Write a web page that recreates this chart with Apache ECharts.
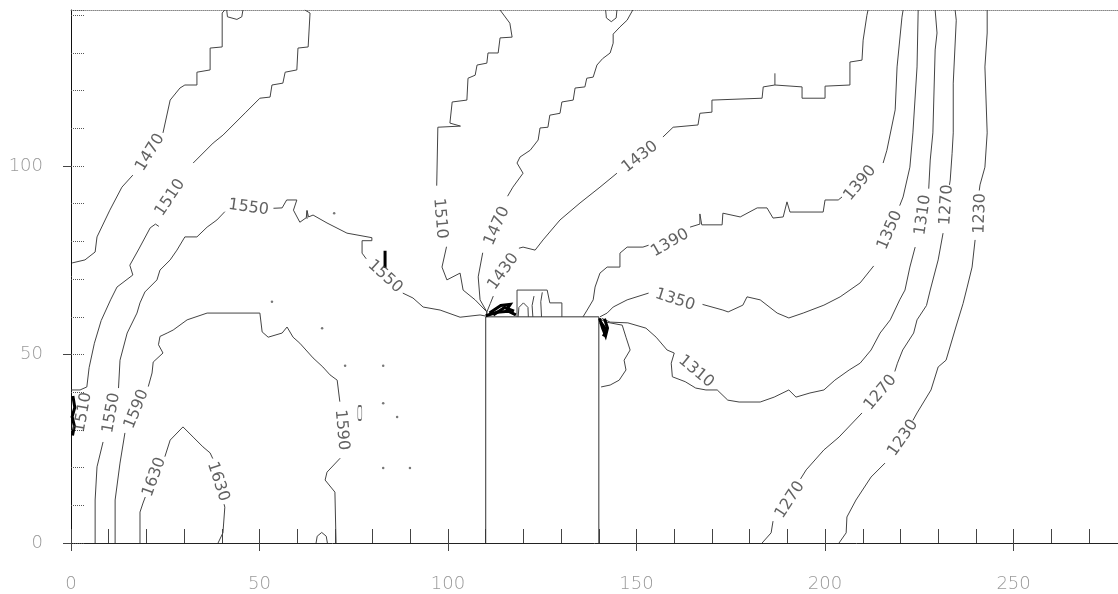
<!DOCTYPE html>
<html><head><meta charset="utf-8">
<script src="https://cdn.jsdelivr.net/npm/echarts@6/dist/echarts.min.js"></script>
<style>html,body{margin:0;padding:0;background:#fff}#c{width:1118px;height:594px}</style>
</head><body><div id="c"></div>
<script>
// axis extents (data units)
const xMax = 277.7;
const yMax = 141.4;
const xMajor = 50, xMinor = 10, yMajor = 50, yMinor = 10;

// building outline
const building = [[110,0],[110,60],[140,60],[140,0]];

// contour segments [x, y] in data units, one array per level
const c1630 = [
  [[18.3,0],[18.3,8.2],[19.1,10.6],[19.7,12.2]],
  [[24.9,22.9],[26.3,27.3],[29.7,30.8],[32.4,28.1],[35,25.5],[36.9,23.9],[37.6,22.4]],
  [[40.6,10.3],[40.8,9.5],[40.3,2.7],[39,0]]
];
const c1590 = [
  [[11.7,0],[11.7,11.4],[13,21.2],[14.3,29.2]],
  [[20.5,41.5],[21.5,45.1],[21.8,48],[24.4,50.4],[23.2,52.6],[23.6,54.8],[25.5,55.7],[27.1,56.5],[30.8,59.2],[36.1,61],[50.1,61],[50.7,56],[52.3,54.6],[56,55.7],[57.3,57.3],[58.9,54.6],[60.7,53],[64.2,49.1],[66.8,46.7],[68.7,44.6],[70.6,43.2],[71.3,37.5]],
  [[71.4,22.5],[67.9,18.8],[67.4,16.7],[70,13.5],[70.3,0]]
];
const c1550 = [
  [[6.4,0],[6.4,11.4],[6.9,20.2],[8.5,26.8]],
  [[12.6,41.1],[13,48.5],[14.9,55.7],[17.5,61],[18.3,63.7],[19.6,66.6],[22.8,69.8],[23.6,72.4],[26.3,75.1],[28.1,77.7],[30.2,81.2],[33.4,81.2],[36.1,83.8],[38.7,85.7],[40.8,87.9]],
  [[53.7,88.8],[56,88.9],[57.2,91],[59.9,91],[59,88.3],[60.7,85.1],[62.4,86.3],[62.6,88.2],[63,86.5],[64.2,87],[67.9,84.9],[73.2,82.2],[79.8,81],[79.8,80.2],[77.2,80.2],[77.2,76.9],[78.3,75.4]],
  [[88,66.3],[90.7,65],[93.4,62.6],[97.9,61.8],[103.2,59.9],[108.5,60.5],[110,60.2]]
];
const c1510 = [
  [[0,40.6],[2.4,40.6],[4.2,41.4],[4.8,46.5],[6.2,53],[8,59],[10.5,64.5],[12.2,67.9],[16.4,71.1],[15.6,73.7],[18,78],[21,83.6],[22.4,84.6],[23.3,84]],
  [[32.4,100.8],[37.7,106.1],[40.3,108.2],[46.4,114.3],[50.1,118],[52.8,118.3],[53.3,121.5],[56.2,122],[56.8,124.9],[59.9,125.5],[60.2,131.3],[62.9,131.6],[63.4,140.6],[62,141.4]],
  [[113.8,141.4],[116.4,137.9],[117,134.2],[113.8,134],[113.3,130],[110.6,130],[110.3,127.3],[107.7,126.8],[107.2,124.1],[105.3,123.3],[105,117.5],[101.1,117],[100.5,111.4],[103.3,110.6],[97.3,110.3],[97,94.8]],
  [[99.6,78.6],[98.4,73.2],[99.7,69.8],[103.2,71.6],[104,67.1],[107.2,64.5],[110.3,61.3],[110.2,60.2]]
];
const c1470 = [
  [[0.3,74.3],[3.7,75.1],[6.4,77.2],[6.9,81.2],[10.3,88.3],[13.5,94.4],[16.4,97.6]],
  [[24.4,108.8],[26.3,117.5],[28.9,120.7],[30.2,121.5],[33.4,121.5],[33.4,124.9],[36.9,125.5],[36.9,131.3],[40.1,131.6],[40.1,140.6],[40.8,141.4]],
  [[41.3,141.4],[41.5,139.6],[44,138.9],[45.3,139.6],[45.6,141.4]],
  [[149,141.4],[147.5,138.7],[145.6,136.9],[143.8,135],[143.8,132.6],[143,130],[141,128.5],[139.5,126.8],[138.5,123.6],[136.8,123.3],[136.3,121],[133.7,120.7],[133.2,117.5],[130.2,117],[129.7,114],[127,113.5],[126.5,110.3],[124.4,110.1],[123.9,106.9],[121.8,104.2],[119.1,102.4],[118.3,100.8],[119.9,98.1],[117.2,94.4],[115.8,92]],
  [[109.2,77],[108,70.6],[108.5,64.5],[110.3,61.3],[110.2,60.2]],
  [[141.8,141.4],[142,139.3],[143.3,138.3],[144.6,139.3],[144.8,141.4]]
];
const c1430 = [
  [[110.3,61.3],[111.2,63.5],[112,65.5]],
  [[118.8,78.2],[119.9,78.5],[123.1,77.7],[125.2,80.4],[129.7,85.7],[135,90.2],[140.3,94.4],[144.8,98.1]],
  [[157,107.7],[159.7,110.3],[166.3,110.9],[166.8,114],[170,114.3],[170,117.5],[183.3,118],[183.6,121],[186.7,121.5],[193.9,121],[193.9,118],[200,118],[200,121.2],[206.6,121.5],[206.6,127.6],[209.8,128.1],[210.1,133.4],[211.1,140],[211.4,141.4]],
  [[186.7,121.5],[186.7,124.6]]
];
const c1390 = [
  [[135.8,60],[136.9,61.8],[138.5,64.5],[139,67.9],[140.3,71.6],[142.2,73.2],[145.6,73.2],[145.6,76.9],[147.5,78.5],[151.7,78.5],[153.2,79]],
  [[164.2,83.8],[166.8,84.6],[166.8,87.3],[167.3,84.4],[172.7,84.4],[172.9,87.5],[177.5,86.5],[182,88.9],[184.6,88.9],[186.2,86.2],[188.9,86.5],[189.9,90.5],[190.7,87.8],[199.5,87.8],[200,91],[203.5,91],[204.5,91.8]],
  [[215.4,100.8],[216.4,104.2],[218.6,114.9],[219.1,126.3],[220.4,139.5],[220.7,141.4]]
];
const c1350 = [
  [[224.7,141.4],[224.4,126.3],[223.3,108.8],[222.5,99.7],[220.7,91.8],[219.8,89.5]],
  [[212.9,73.5],[209.3,69],[204,65.3],[199.7,63.1],[194.2,61],[190.4,59.7],[187.3,61],[182.8,64.5],[179.3,65.3],[178.2,63.1],[174.3,61.3],[172.9,61.8],[167.5,63.3]],
  [[153.2,66.3],[147.5,64.5],[143.8,62.6],[142.2,61],[140.3,60]],
  [[140,59.6],[141.9,58.6],[146.2,57.8],[147.2,54.6],[148.3,51.2],[146.7,48.5],[147.2,45.9],[145.4,43.2],[143,41.9],[140.6,41.4]]
];
const c1310 = [
  [[229.2,141.4],[229.7,135.3],[229.2,130.8],[228.6,108.8],[227.9,101.6],[227.5,94]],
  [[223.9,78.5],[222.5,73.2],[221.2,67.1],[219.8,64.5],[217.3,59.2],[214.6,55.7],[212.2,51.2],[209.3,47.7],[206.4,45.9],[202.6,43.2],[199.7,40.6],[196,39.8],[192.3,38.7],[190.4,40.6],[186.5,38.7],[182.8,37.4],[177.2,37.4],[174.2,37.9],[171.4,40.6],[168.4,40.6],[165.7,41.1],[162.9,42.8],[159.5,44.1],[159.2,47.7],[160,50.4],[158.1,51.2],[155.2,54.6],[152.5,57],[147.7,58.4],[143,58.6],[140.8,59.6]]
];
const c1270 = [
  [[234.5,141.4],[234.8,138.7],[234,122],[234,108.8],[233.7,103.4],[233.2,96.3],[233,95]],
  [[231.3,82.2],[230,75.1],[227.9,67.1],[226.9,63],[224.4,59.2],[223.5,55.7],[220.6,51.2],[219.2,47.7],[218.5,45.5]],
  [[209.8,34.5],[203.7,28.1],[199.7,24.7],[195,19.4],[193.5,17]],
  [[186.2,5.8],[185.7,2.7],[183.3,0]]
];
const c1230 = [
  [[243,141.4],[243,135.3],[242.4,126.3],[243,108.8],[242.4,99.7],[241.1,95],[240.9,93.5]],
  [[239.8,80.4],[239,73.2],[237.7,67.9],[236.6,63.5],[234.7,57.3],[232.1,48.5],[230,46.7],[228.1,40.6],[224.4,34.5],[223.3,32.5]],
  [[215.9,21.2],[212.2,17.5],[208.2,11.4],[205.8,6.9],[205.6,2.7],[203.7,0]]
];
// small unlabeled bits on the roof and near the floor
const roofMarks = [
  [[118.3,60],[118.3,67.1],[126.3,67.1],[127,63.7],[130.2,63.7],[130.2,60]],
  [[122.5,60],[122.3,63],[122.8,65.5]],
  [[124.8,60],[124.6,64],[125,66.5]],
  [[118.6,60],[118.8,62.5],[120,63.7],[121.2,62.5],[121.3,60]],
  [[65,0],[65.3,1.8],[66.5,2.8],[67.7,1.8],[68,0]],
  [[62.6,86],[62.6,88.2]]
];
// dense dark clusters
const blobs = [
  [[0.4,28.5],[0.9,31],[0.3,33.5],[1,36],[0.5,39]],
  [[110,60.3],[113,61.2],[116,61.5],[118,60.5]],
  [[111,61],[114,63],[116.5,63.3],[115.5,61.8]],
  [[112,60.5],[115,62.5],[117.5,61.5]],
  [[140.2,59.6],[141,57],[141.8,55],[142.3,57],[141.5,59.5]],
  [[140.5,58.5],[142,56.5],[141.2,54.8]],
  [[83.3,73],[83.3,77.5]]
];
const rings = [[96,66],[89.6,29.6],[170,36],[76.4,9.8],[72.9,16.4],[79.8,30.8],[79.8,23.3]];
const ringSize = [10,7,12,4,4,4,4];
const dots = [[72.7,47],[82.8,47],[82.8,37.1],[82.8,19.9],[89.9,19.9],[86.5,33.4],[53.3,64],[66.6,57],[69.8,87.5]];
const capsules = [[76.6,34.5]];

// contour labels: text, x, y, rotation(deg)
const labelText = ['1470','1510','1550','1550','1510','1470','1430','1430','1390','1390','1350','1310','1270','1230','1350','1310','1270','1230','1270','1510','1550','1590','1630','1630','1590'];
const labelX    = [21,   26.3, 47.1, 83.3, 97.9, 113,  150.9,114.7,158.9,209.3,217.2,226,  232.2,241.1,160.2,165.8,214.7,220.7,190.7,3.2,  10.7, 17.4, 22.1, 39,   71.8];
const labelY    = [103.6,91.6, 89,   70.7, 86.1, 84.1, 102.4,72,   79.6, 95.5, 83,   87,   89.7, 87.4, 64.5, 45.5, 39.9, 27.9, 11.4, 34.6, 34.5, 35.5, 17.5, 16.3, 30];
const labelRot  = [58,   56,   -8,   -42,  -85,  66,   38,   54,   30,   50,   67,   82,   86,   88,   -18,  -40,  50,   55,   57,   80,   80,   68,   70,   -72,  -85];

const allContours = [].concat(c1630, c1590, c1550, c1510, c1470, c1430, c1390, c1350, c1310, c1270, c1230, roofMarks);

const chart = echarts.init(document.getElementById('c'));
const tickFont = {color:'#9a9a9a', fontSize:18, fontFamily:'DejaVu Sans', fontWeight:'lighter'};
chart.setOption({
  animation:false,
  backgroundColor:'#fff',
  grid:{left:71, top:10, right:0, bottom:51},
  xAxis:[
    {type:'value', min:0, max:xMax, interval:xMajor, position:'bottom',
     axisLine:{show:true, lineStyle:{color:'#222', width:1}},
     axisTick:{show:true, inside:false, length:8, lineStyle:{color:'#444'}},
     axisLabel:Object.assign({show:true, margin:32, showMaxLabel:false}, tickFont),
     splitLine:{show:false}},
    {type:'value', min:0, max:xMax, interval:xMinor, position:'bottom',
     axisLine:{show:false}, axisTick:{show:true, inside:true, length:14, lineStyle:{color:'#444'}},
     axisLabel:{show:false}, splitLine:{show:false}},
    {type:'value', min:0, max:xMax, position:'top',
     axisLine:{show:true, lineStyle:{color:'#888', type:'dotted', width:1}},
     axisTick:{show:false}, axisLabel:{show:false}, splitLine:{show:false}}
  ],
  yAxis:[
    {type:'value', min:0, max:yMax, interval:yMajor, position:'left',
     axisLine:{show:true, lineStyle:{color:'#111', width:1}},
     axisTick:{show:true, inside:false, length:8, lineStyle:{color:'#444'}},
     axisLabel:Object.assign({show:true, margin:28, showMaxLabel:false}, tickFont),
     splitLine:{show:false}},
    {type:'value', min:0, max:yMax, interval:yMinor, position:'left',
     axisLine:{show:false}, axisTick:{show:true, inside:true, length:14, lineStyle:{color:'#555', type:'dotted'}},
     axisLabel:{show:false}, splitLine:{show:false}}
  ],
  series:[
    {type:'lines', coordinateSystem:'cartesian2d', polyline:true, silent:true,
     data:allContours.map(c=>({coords:c})),
     lineStyle:{color:'#444', width:1, opacity:1}},
    {type:'lines', coordinateSystem:'cartesian2d', polyline:true, silent:true,
     data:[{coords:building}], lineStyle:{color:'#333', width:1, opacity:1}},
    {type:'lines', coordinateSystem:'cartesian2d', polyline:true, silent:true,
     data:blobs.map(c=>({coords:c})), lineStyle:{color:'#000', width:3, opacity:1}},
    {type:'scatter', silent:true, symbol:'emptyCircle',
     data:rings.map((p,i)=>({value:p, symbolSize:ringSize[i]})),
     itemStyle:{color:'#fff', borderColor:'#444', borderWidth:1}},
    {type:'scatter', silent:true, symbol:'roundRect', symbolSize:[4,14],
     data:capsules, itemStyle:{color:'#fff', borderColor:'#444', borderWidth:1}},
    {type:'scatter', silent:true, symbol:'circle', symbolSize:2.5,
     data:dots, itemStyle:{color:'#555'}},
    {type:'scatter', silent:true, symbolSize:0,
     data:labelText.map((t,i)=>({name:t, value:[labelX[i], labelY[i]], label:{rotate:labelRot[i]}})),
     label:{show:true, position:'inside', formatter:p=>p.name, fontSize:16, color:'#3a3a3a', fontFamily:'DejaVu Sans'}}
  ]
});
</script>
</body></html>
